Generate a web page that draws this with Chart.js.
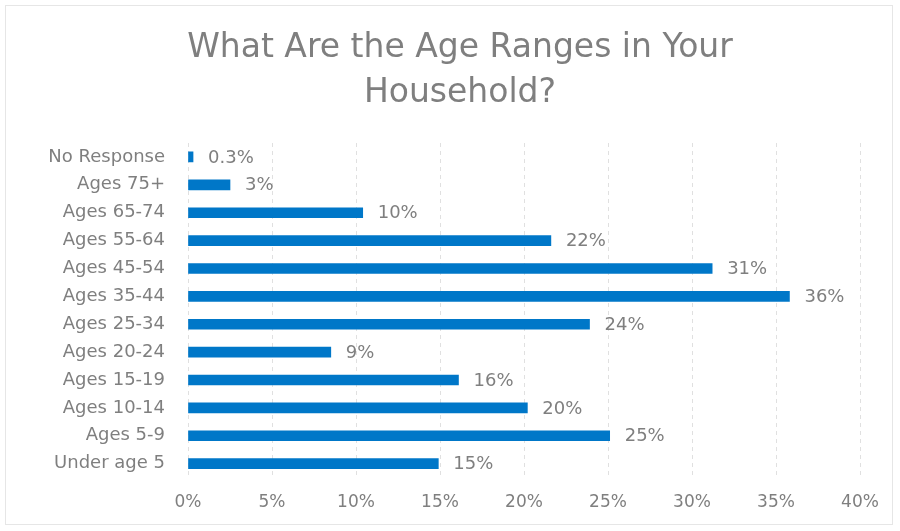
<!DOCTYPE html>
<html>
<head>
<meta charset="utf-8">
<script src="https://cdn.jsdelivr.net/npm/chart.js@4.4.0/dist/chart.umd.min.js"></script>
<style>
  html, body { margin: 0; padding: 0; background: #fff; }
  #wrap { position: relative; width: 900px; height: 531px; }
  #frame { position: absolute; left: 5px; top: 5px; width: 888px; height: 520px; border: 1px solid #e6e6e6; box-sizing: border-box; }
</style>
</head>
<body>
<div id="wrap">
  <div id="frame"></div>
  <canvas id="ageChart" width="900" height="531"></canvas>
</div>
<script>
const categories = [
  "No Response", "Ages 75+", "Ages 65-74", "Ages 55-64", "Ages 45-54", "Ages 35-44",
  "Ages 25-34", "Ages 20-24", "Ages 15-19", "Ages 10-14", "Ages 5-9", "Under age 5",
];
const shares = [0.3, 2.5, 10.4, 21.6, 31.2, 35.8, 23.9, 8.5, 16.1, 20.2, 25.1, 14.9];
const shareLabels = ["0.3%", "3%", "10%", "22%", "31%", "36%", "24%", "9%", "16%", "20%", "25%", "15%"];
const titleLines = ["What Are the Age Ranges in Your", "Household?"];

const fontFamily = "'DejaVu Sans', sans-serif";
const textGray = "#7f7f7f";

// title sits a little right of the canvas centre in the original, so draw it by hand
const offsetTitle = {
  id: "offsetTitle",
  afterDraw(chart) {
    const { ctx } = chart;
    ctx.save();
    ctx.font = "33px " + fontFamily;
    ctx.fillStyle = textGray;
    ctx.textAlign = "center";
    ctx.textBaseline = "middle";
    titleLines.forEach((line, i) => ctx.fillText(line, 460, 48 + i * 45));
    ctx.restore();
  },
};

// draw value text just past the end of each bar
const barValueLabels = {
  id: "barValueLabels",
  afterDatasetsDraw(chart) {
    const { ctx } = chart;
    ctx.save();
    ctx.font = "18px " + fontFamily;
    ctx.fillStyle = textGray;
    ctx.textBaseline = "middle";
    chart.getDatasetMeta(0).data.forEach((bar, i) => {
      ctx.fillText(shareLabels[i], bar.x + 15, bar.y + 1);
    });
    ctx.restore();
  },
};

new Chart(document.getElementById("ageChart"), {
  type: "bar",
  data: {
    labels: categories,
    datasets: [
      {
        data: shares,
        backgroundColor: "#0077c8",
        barThickness: 10,
      },
    ],
  },
  options: {
    indexAxis: "y",
    responsive: false,
    animation: false,
    layout: { padding: { left: 20, right: 40, top: 143, bottom: 3 } },
    plugins: {
      legend: { display: false },
      tooltip: { enabled: false },
      title: { display: false },
    },
    scales: {
      x: {
        min: 0,
        max: 40,
        ticks: {
          stepSize: 5,
          callback: (v) => v + "%",
          color: textGray,
          font: { family: fontFamily, size: 17 },
          padding: 15,
        },
        grid: { color: "#e0e0e0", drawTicks: false },
        border: { display: false, dash: [4, 4] },
      },
      y: {
        afterFit: (scale) => { scale.width = 168; },
        ticks: {
          color: textGray,
          font: { family: fontFamily, size: 18 },
          padding: 15,
          autoSkip: false,
        },
        grid: { display: false },
        border: { display: false },
      },
    },
  },
  plugins: [barValueLabels, offsetTitle],
});
</script>
</body>
</html>
